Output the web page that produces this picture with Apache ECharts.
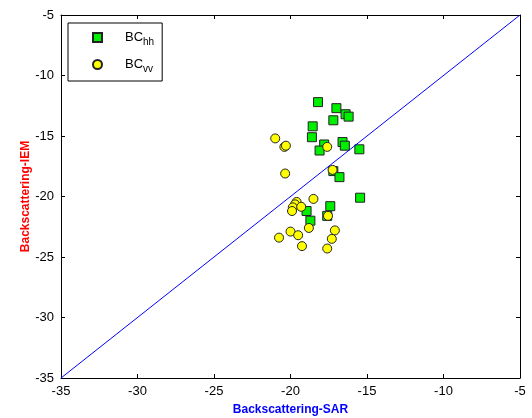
<!DOCTYPE html>
<html>
<head>
<meta charset="utf-8">
<script src="https://cdn.jsdelivr.net/npm/echarts@6/dist/echarts.min.js"></script>
<style>
  html, body { margin: 0; padding: 0; background: #fff; }
  #chart { width: 532px; height: 418px; }
</style>
</head>
<body>
<div id="chart"></div>
<script>
// axis ticks
const ticks = [-35, -30, -25, -20, -15, -10, -5]

// BC_hh (SAR, IEM)
const hhSar = [-18.2, -17.0, -16.4, -16.2, -17.2, -18.55, -18.6, -17.8, -18.1, -16.6,
  -16.45, -15.5, -17.2, -16.8, -15.45, -17.4, -18.95, -17.6, -18.7]
const hhIem = [-12.2, -12.7, -13.2, -13.4, -13.7, -14.2, -15.1, -15.7, -16.2, -15.5,
  -15.8, -16.1, -17.9, -18.4, -20.1, -20.8, -21.2, -21.6, -22.0]

// BC_vv (SAR, IEM)
const vvSar = [-21.0, -20.4, -20.3, -17.6, -20.35, -17.25, -18.5, -19.6, -19.7, -19.85,
  -19.9, -19.3, -17.55, -18.8, -17.1, -20.0, -19.5, -20.75, -17.3, -19.25, -17.6]
const vvIem = [-15.2, -15.9, -15.8, -15.9, -18.1, -17.8, -20.2, -20.45, -20.65, -20.9,
  -21.2, -20.85, -21.6, -22.6, -22.8, -22.9, -23.2, -23.4, -23.5, -24.1, -24.3]

// 1:1 reference line
const diagX = [-35, -5]
const diagY = [-35, -5]

const FONT = 'Liberation Sans, Arial, sans-serif'
const zip = (a, b) => a.map((v, i) => [v, b[i]])

const chart = echarts.init(document.getElementById('chart'), null, { renderer: 'canvas' })

const axisBase = {
  type: 'value',
  min: ticks[0],
  max: ticks[ticks.length - 1],
  interval: 5,
  splitLine: { show: false },
  axisLine: { show: true, onZero: false, lineStyle: { color: '#000', width: 1 } },
  axisTick: { show: true, inside: true, length: 4, lineStyle: { color: '#000' } }
}

const option = {
  animation: false,
  backgroundColor: '#fff',
  grid: {
    left: 61,
    right: 12,
    top: 15,
    bottom: 40,
    outerBoundsMode: 'none'
  },
  legend: {
    left: 68,
    top: 23,
    orient: 'vertical',
    data: ['BChh', 'BCvv'],
    itemWidth: 9,
    itemHeight: 9,
    itemGap: 11,
    padding: [8, 8, 7, 24],
    backgroundColor: '#fff',
    borderColor: '#000',
    borderWidth: 1,
    formatter: function (name) {
      return '{m|BC}{s|' + name.slice(2) + '}'
    },
    textStyle: {
      color: '#000',
      fontFamily: FONT,
      rich: {
        m: { fontSize: 13, fontFamily: FONT, color: '#000', padding: [0, 0, 0, 18] },
        s: { fontSize: 10, fontFamily: FONT, color: '#000', padding: [9, 0, 0, 0] }
      }
    }
  },
  xAxis: [
    Object.assign({}, axisBase, {
      position: 'bottom',
      name: 'Backscattering-SAR',
      nameLocation: 'middle',
      nameGap: 26,
      nameMoveOverlap: false,
      nameTextStyle: { color: '#0000ff', fontWeight: 'bold', fontSize: 12, fontFamily: FONT },
      axisLabel: { color: '#000', fontSize: 13, fontFamily: FONT, margin: 7 }
    }),
    Object.assign({}, axisBase, {
      position: 'top',
      axisLabel: { show: false }
    })
  ],
  yAxis: [
    Object.assign({}, axisBase, {
      position: 'left',
      name: 'Backscattering-IEM',
      nameLocation: 'middle',
      nameGap: 29,
      nameMoveOverlap: false,
      nameTextStyle: { color: '#ff0000', fontWeight: 'bold', fontSize: 12, fontFamily: FONT },
      axisLabel: { color: '#000', fontSize: 13, fontFamily: FONT, margin: 7 }
    }),
    Object.assign({}, axisBase, {
      position: 'right',
      axisLabel: { show: false }
    })
  ],
  series: [
    {
      name: 'diag',
      type: 'line',
      data: zip(diagX, diagY),
      showSymbol: false,
      lineStyle: { color: '#0000ff', width: 1 },
      silent: true
    },
    {
      name: 'BChh',
      type: 'scatter',
      symbol: 'rect',
      symbolSize: 9,
      data: zip(hhSar, hhIem),
      itemStyle: { color: '#00ee00', borderColor: '#222', borderWidth: 1, opacity: 1 }
    },
    {
      name: 'BCvv',
      type: 'scatter',
      symbol: 'circle',
      symbolSize: 9,
      data: zip(vvSar, vvIem),
      itemStyle: { color: '#ffff00', borderColor: '#222', borderWidth: 1, opacity: 1 }
    }
  ]
}

chart.setOption(option)
</script>
</body>
</html>
